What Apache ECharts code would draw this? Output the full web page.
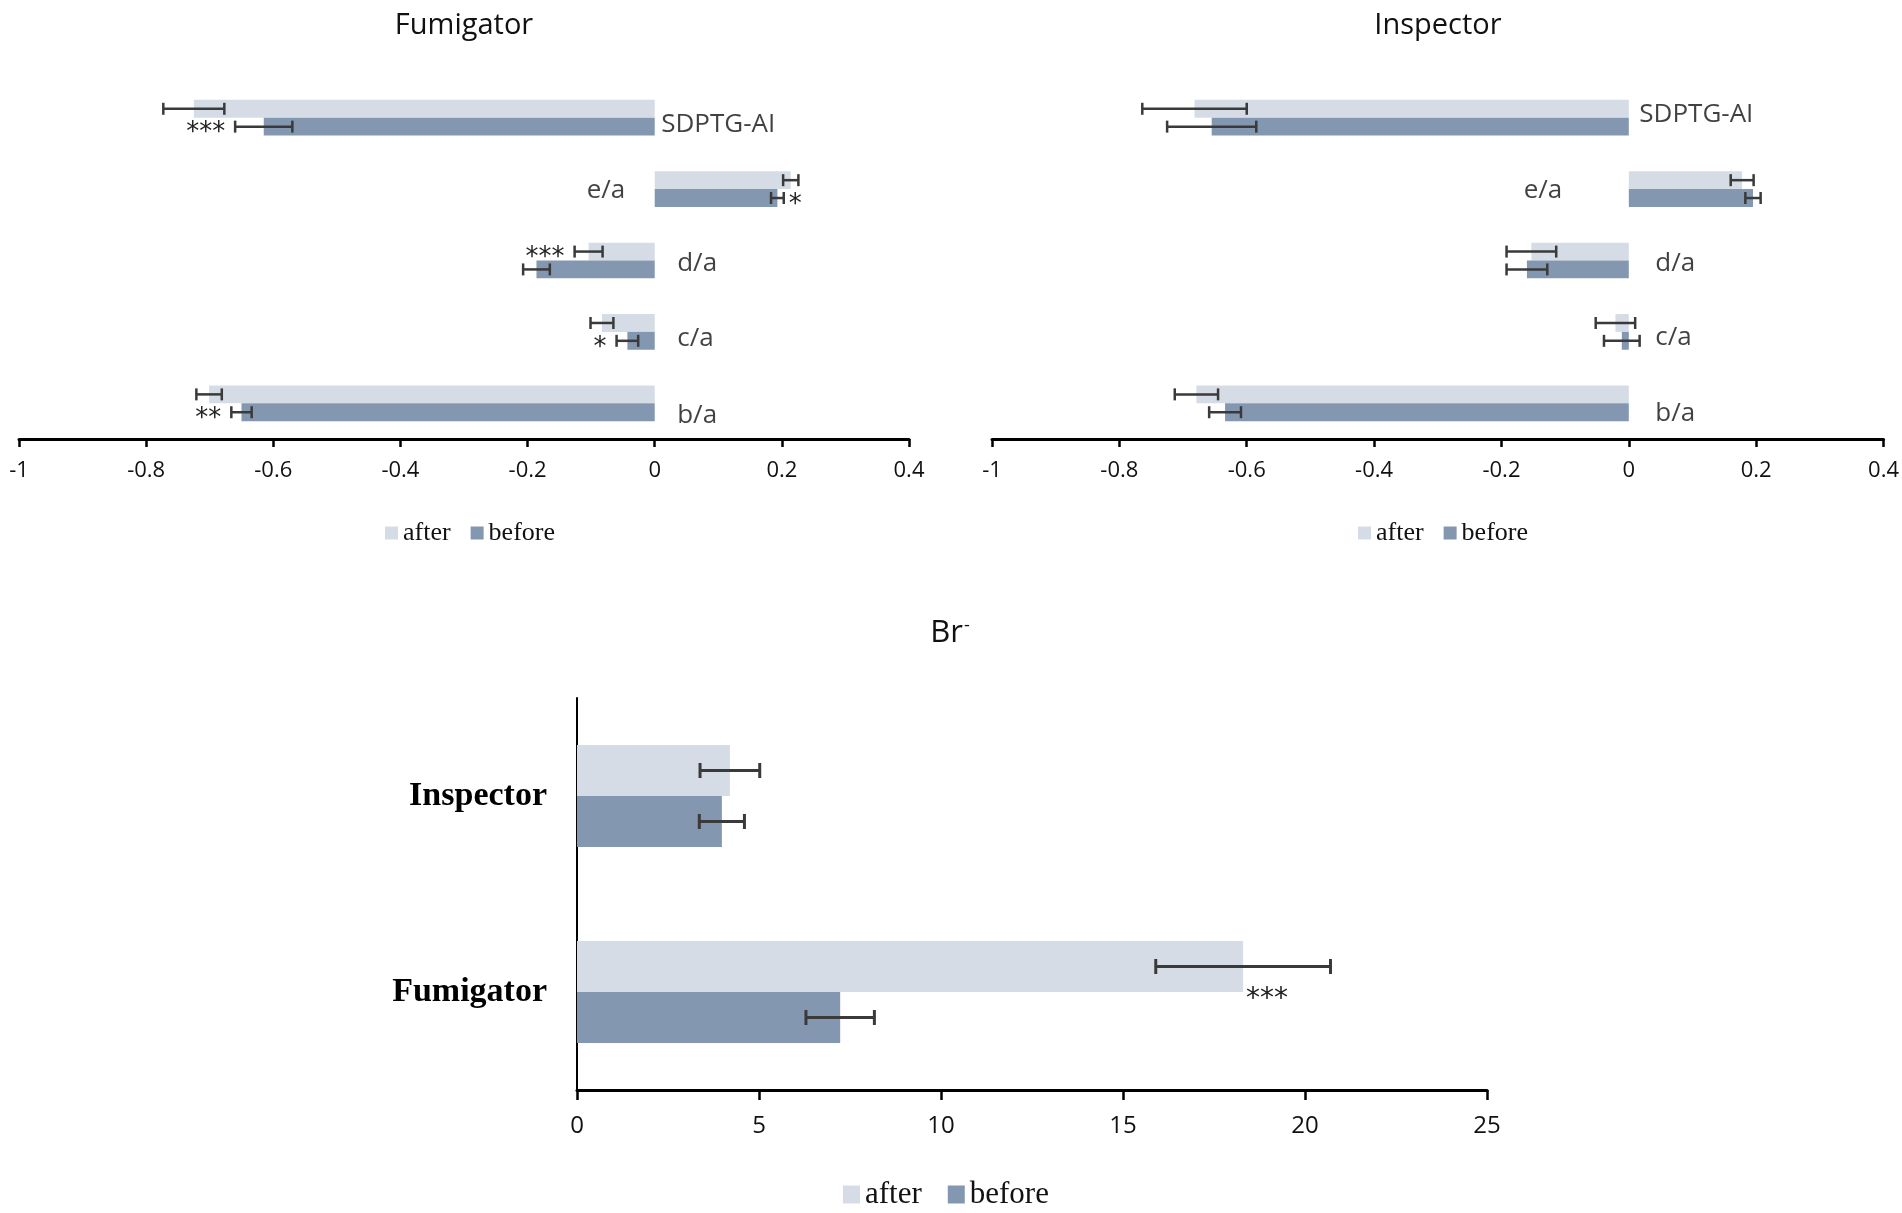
<!DOCTYPE html>
<html>
<head>
<meta charset="utf-8">
<title>SDPTG ratios and Br- : Fumigator / Inspector</title>
<script src="https://cdn.jsdelivr.net/npm/echarts@6/dist/echarts.min.js"></script>
<style>
    html, body { margin: 0; padding: 0; background: #fff; }
    #chart { width: 1902px; height: 1213px; }
</style>
</head>
<body>
<div id="chart"></div>
<script>
// ratio categories, listed bottom to top like the sheet
var ratioCats = ['b/a', 'c/a', 'd/a', 'e/a', 'SDPTG-AI'];
var ratioTicks = [-1, -0.8, -0.6, -0.4, -0.2, 0, 0.2, 0.4];

// Fumigator
var fumAfter = [-0.701, -0.083, -0.104, 0.214, -0.725];
var fumAfterErr = [0.020, 0.018, 0.022, 0.012, 0.048];
var fumBefore = [-0.650, -0.043, -0.186, 0.193, -0.615];
var fumBeforeErr = [0.016, 0.017, 0.021, 0.010, 0.045];
var fumAfterStars = ['', '', '***', '', ''];
var fumBeforeStars = ['**', '*', '', '*', '***'];

// Inspector
var insAfter = [-0.679, -0.021, -0.153, 0.178, -0.682];
var insAfterErr = [0.034, 0.031, 0.039, 0.018, 0.082];
var insBefore = [-0.634, -0.011, -0.160, 0.195, -0.655];
var insBeforeErr = [0.025, 0.028, 0.032, 0.012, 0.070];
var insAfterStars = ['', '', '', '', ''];
var insBeforeStars = ['', '', '', '', ''];

// Br-
var brCats = ['Fumigator', 'Inspector'];
var brAfter = [18.3, 4.2];
var brAfterErr = [2.40, 0.82];
var brBefore = [7.23, 3.98];
var brBeforeErr = [0.94, 0.62];
var brAfterStars = ['***', ''];
var brBeforeStars = ['', ''];

var colAfter = '#d6dce5';
var colBefore = '#8497b0';
var errColor = '#3a3a3a';
var sansFont = 'Open Sans';
var serifFont = 'Liberation Serif';

// where the category names sit next to the zero line: [side, distance, dy]
var fumLabelPlace = [['right', 22, 12], ['right', 22, 7], ['right', 22, 3], ['left', 29, 1], ['right', 6, 7]];
var insLabelPlace = [['right', 26, 10], ['right', 26, 6], ['right', 26, 3], ['left', 66, 1], ['right', 10, -3]];

var chart = echarts.init(document.getElementById('chart'));

function errData(vals, errs) {
    return vals.map(function (v, i) {
        return [i, v - errs[i], v + errs[i]];
    });
}

// error bars (and significance stars) drawn on top of a bar series
function errSeries(name, vals, errs, stars, idx, side, gap, o) {
    return {
        name: name,
        type: 'custom',
        xAxisIndex: idx,
        yAxisIndex: idx,
        silent: true,
        z: 4,
        clip: false,
        encode: {y: 0, x: [1, 2]},
        data: errData(vals, errs),
        renderItem: function (params, api) {
            var cat = api.value(0);
            var lo = api.coord([api.value(1), cat]);
            var hi = api.coord([api.value(2), cat]);
            var band = api.size([0, 1])[1];
            var bw = band * (1 - gap) / 2;
            var y = lo[1] + side * bw / 2;
            var h = o.cap / 2;
            var st = {stroke: errColor, lineWidth: o.lw};
            var kids = [
                {type: 'line', shape: {x1: lo[0], y1: y, x2: hi[0], y2: y}, style: st},
                {type: 'line', shape: {x1: lo[0], y1: y - h, x2: lo[0], y2: y + h}, style: st},
                {type: 'line', shape: {x1: hi[0], y1: y - h, x2: hi[0], y2: y + h}, style: st}
            ];
            var s = stars[params.dataIndex];
            if (s) {
                var v = vals[params.dataIndex];
                var tx, ty = y + 7, align;
                if (o.starAtBar) {
                    tx = api.coord([v, cat])[0] + 3;
                    ty = y + bw / 2 + 8;
                    align = 'left';
                } else if (v < 0) {
                    tx = lo[0] - 10;
                    align = 'right';
                } else {
                    tx = hi[0] + 5;
                    align = 'left';
                }
                kids.push({
                    type: 'text', x: tx, y: ty,
                    style: {
                        text: s, align: align, verticalAlign: 'middle',
                        fontFamily: 'DejaVu Sans', fontSize: o.starSize, fill: '#222'
                    }
                });
            }
            return {type: 'group', children: kids};
        }
    };
}

function barSeries(name, vals, color, idx, gap) {
    return {
        name: name,
        type: 'bar',
        xAxisIndex: idx,
        yAxisIndex: idx,
        data: vals,
        barGap: '0%',
        barCategoryGap: gap * 100 + '%',
        itemStyle: {color: color},
        silent: true,
        z: 2
    };
}

function labelSeries(idx, place) {
    return {
        type: 'scatter',
        xAxisIndex: idx,
        yAxisIndex: idx,
        silent: true,
        symbolSize: 1,
        itemStyle: {color: 'rgba(0,0,0,0)'},
        z: 5,
        data: ratioCats.map(function (c, i) {
            return {
                value: [0, c],
                label: {position: place[i][0], distance: place[i][1], offset: [0, place[i][2]]}
            };
        }),
        label: {
            show: true,
            formatter: function (p) { return p.value[1]; },
            fontFamily: sansFont,
            fontSize: 26,
            color: '#111'
        }
    };
}

function ratioX(idx) {
    return {
        type: 'value',
        gridIndex: idx,
        min: ratioTicks[0],
        max: ratioTicks[ratioTicks.length - 1],
        interval: 0.2,
        splitLine: {show: false},
        axisLine: {show: true, lineStyle: {color: '#000', width: 3}},
        axisTick: {show: true, length: 8, lineStyle: {color: '#000', width: 2.5}},
        axisLabel: {
            margin: 21, color: '#111', fontFamily: sansFont, fontSize: 22,
            formatter: function (v) { return String(Math.round(v * 10) / 10); }
        }
    };
}

function ratioY(idx) {
    return {
        type: 'category',
        gridIndex: idx,
        data: ratioCats,
        axisLine: {show: false},
        axisTick: {show: false},
        axisLabel: {show: false}
    };
}

var topGap = 0.5, brGap = 0.48;
var topErr = {lw: 2.5, cap: 12, starSize: 26};
var brErr = {lw: 3, cap: 15, starSize: 28, starAtBar: true};

var option = {
    backgroundColor: '#fff',
    animation: false,
    title: [
        {text: 'Fumigator', left: 464, top: 11, textAlign: 'center', padding: 0,
            textStyle: {fontFamily: sansFont, fontSize: 29, fontWeight: 'normal', color: '#111'}},
        {text: 'Inspector', left: 1438, top: 11, textAlign: 'center', padding: 0,
            textStyle: {fontFamily: sansFont, fontSize: 29, fontWeight: 'normal', color: '#111'}},
        {text: '{b|Br}{s|-}', left: 950, top: 617, textAlign: 'center', padding: 0,
            textStyle: {
                fontWeight: 'normal',
                rich: {
                    b: {fontFamily: sansFont, fontSize: 31, fontWeight: 'normal', color: '#111'},
                    s: {fontFamily: sansFont, fontSize: 18, fontWeight: 'normal', color: '#111', padding: [0, 0, 15, 1]}
                }
            }}
    ],
    legend: [
        {data: ['after', 'before'], left: 380, top: 515, itemWidth: 13, itemHeight: 13, itemGap: 20,
            icon: 'rect', textStyle: {fontFamily: serifFont, fontSize: 26, color: '#111'}},
        {data: ['after', 'before'], left: 1353, top: 515, itemWidth: 13, itemHeight: 13, itemGap: 20,
            icon: 'rect', textStyle: {fontFamily: serifFont, fontSize: 26, color: '#111'}},
        {data: ['after', 'before'], left: 838, top: 1174, itemWidth: 17, itemHeight: 18, itemGap: 26,
            icon: 'rect', textStyle: {fontFamily: serifFont, fontSize: 31, color: '#111'}}
    ],
    grid: [
        {left: 19, top: 82, width: 890, height: 357},
        {left: 992, top: 82, width: 892, height: 357},
        {left: 577, top: 698, width: 910, height: 392}
    ],
    xAxis: [
        ratioX(0),
        ratioX(1),
        {
            type: 'value',
            gridIndex: 2,
            min: 0,
            max: 25,
            interval: 5,
            splitLine: {show: false},
            axisLine: {show: true, lineStyle: {color: '#000', width: 3}},
            axisTick: {show: true, length: 10, lineStyle: {color: '#000', width: 2.5}},
            axisLabel: {margin: 24, color: '#111', fontFamily: sansFont, fontSize: 24}
        }
    ],
    yAxis: [
        ratioY(0),
        ratioY(1),
        {
            type: 'category',
            gridIndex: 2,
            data: brCats,
            axisLine: {show: true, lineStyle: {color: '#000', width: 2}},
            axisTick: {show: false},
            axisLabel: {margin: 30, color: '#000', fontFamily: serifFont, fontWeight: 'bold', fontSize: 34}
        }
    ],
    series: [
        barSeries('after', fumAfter, colAfter, 0, topGap),
        barSeries('before', fumBefore, colBefore, 0, topGap),
        errSeries('after-err', fumAfter, fumAfterErr, fumAfterStars, 0, -1, topGap, topErr),
        errSeries('before-err', fumBefore, fumBeforeErr, fumBeforeStars, 0, 1, topGap, topErr),
        labelSeries(0, fumLabelPlace),

        barSeries('after', insAfter, colAfter, 1, topGap),
        barSeries('before', insBefore, colBefore, 1, topGap),
        errSeries('after-err', insAfter, insAfterErr, insAfterStars, 1, -1, topGap, topErr),
        errSeries('before-err', insBefore, insBeforeErr, insBeforeStars, 1, 1, topGap, topErr),
        labelSeries(1, insLabelPlace),

        barSeries('after', brAfter, colAfter, 2, brGap),
        barSeries('before', brBefore, colBefore, 2, brGap),
        errSeries('after-err', brAfter, brAfterErr, brAfterStars, 2, -1, brGap, brErr),
        errSeries('before-err', brBefore, brBeforeErr, brBeforeStars, 2, 1, brGap, brErr)
    ]
};

chart.setOption(option);
window.addEventListener('resize', function () {
    chart.resize();
});
</script>
</body>
</html>
